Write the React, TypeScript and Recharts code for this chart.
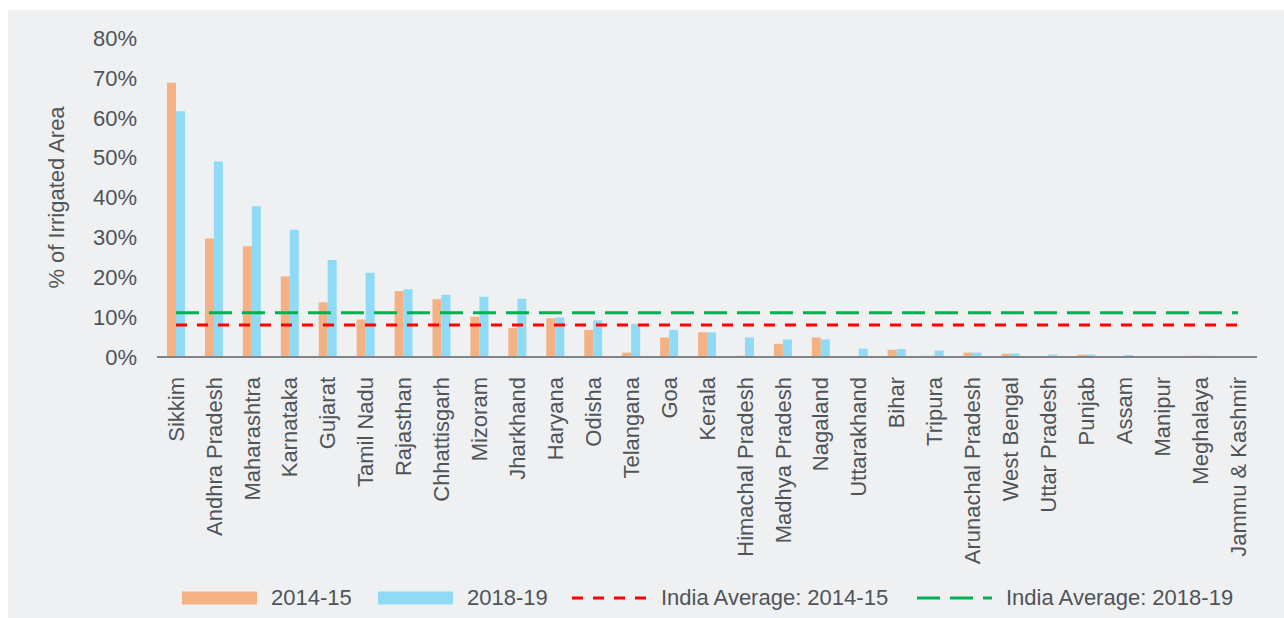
import {
  Bar,
  BarChart,
  Label,
  Legend,
  Line,
  XAxis,
  YAxis,
} from 'recharts'

const states = [
  'Sikkim', 'Andhra Pradesh', 'Maharashtra', 'Karnataka', 'Gujarat', 'Tamil Nadu',
  'Rajasthan', 'Chhattisgarh', 'Mizoram', 'Jharkhand', 'Haryana', 'Odisha',
  'Telangana', 'Goa', 'Kerala', 'Himachal Pradesh', 'Madhya Pradesh', 'Nagaland',
  'Uttarakhand', 'Bihar', 'Tripura', 'Arunachal Pradesh', 'West Bengal',
  'Uttar Pradesh', 'Punjab', 'Assam', 'Manipur', 'Meghalaya', 'Jammu & Kashmir',
]

// % of irrigated area
const share2014 = [
  68.8, 29.7, 27.8, 20.2, 13.7, 9.4, 16.5, 14.5, 10.1, 7.3, 9.7, 6.8, 1.1, 4.9, 6.2,
  0.3, 3.3, 4.9, 0.05, 1.8, 0.3, 1.1, 0.8, 0.1, 0.6, 0.05, 0.2, 0.3, 0.1,
]
const share2018 = [
  61.6, 49.0, 37.8, 31.9, 24.3, 21.1, 17.0, 15.6, 15.1, 14.6, 9.9, 9.2, 8.3, 6.8, 6.2,
  4.9, 4.4, 4.4, 2.1, 2.0, 1.6, 1.1, 0.9, 0.6, 0.6, 0.5, 0.1, 0.3, 0.05,
]
const indiaAvg2014 = 8.0
const indiaAvg2018 = 11.1

const yTicks = [0, 10, 20, 30, 40, 50, 60, 70, 80]

const FONT = "'Liberation Sans', Arial, sans-serif"
const FS = 22
const TEXT = '#4f5459'
const ORANGE = '#f4b183'
const BLUE = '#8fdbf5'
const RED = '#ff0000'
const GREEN = '#00b050'

const data = states.map((name, i) => ({
  name,
  y2014: share2014[i],
  y2018: share2018[i],
  avg2014: indiaAvg2014,
  avg2018: indiaAvg2018,
}))

const legendItems = [
  { label: '2014-15', kind: 'rect', color: ORANGE, left: 174 },
  { label: '2018-19', kind: 'rect', color: BLUE, left: 370 },
  { label: 'India Average: 2014-15', kind: 'line', color: RED, dash: '11 10', left: 564 },
  { label: 'India Average: 2018-19', kind: 'line', color: GREEN, dash: '23 10', left: 909 },
]

function StateTick(props: any) {
  const { x, y, payload } = props
  return (
    <g transform={`translate(${x},${y})`}>
      <text
        transform="rotate(-90)"
        x={-20}
        y={0}
        dy="0.35em"
        textAnchor="end"
        fill={TEXT}
        fontSize={FS}
        fontFamily={FONT}
      >
        {payload.value}
      </text>
    </g>
  )
}

function ChartLegend() {
  return (
    <div style={{ position: 'relative', width: 1276, height: 25, fontFamily: FONT, fontSize: FS, color: TEXT }}>
      {legendItems.map((it) => (
        <div
          key={it.label}
          style={{ position: 'absolute', left: it.left, top: 0, height: 25, display: 'flex', alignItems: 'center', whiteSpace: 'nowrap' }}
        >
          <svg width={75} height={14} style={{ marginRight: 14 }}>
            {it.kind === 'rect' ? (
              <rect x={0} y={0.5} width={75} height={13} fill={it.color} />
            ) : (
              <line x1={0} y1={7} x2={75} y2={7} stroke={it.color} strokeWidth={3} strokeDasharray={it.dash} />
            )}
          </svg>
          <span>{it.label}</span>
        </div>
      ))}
    </div>
  )
}

export default function App() {
  return (
    <div>
      <style>{'body{margin:0;overflow:hidden;background:#fff}'}</style>
      <div style={{ position: 'absolute', left: 8, top: 10, width: 1276, height: 608, background: '#eef0f2', overflow: 'hidden' }}>
        <BarChart
          width={1276}
          height={608}
          data={data}
          margin={{ top: 28, right: 27, left: 0, bottom: 0 }}
          barGap={0}
          barSize={9}
        >
          <XAxis
            dataKey="name"
            interval={0}
            height={261}
            tickLine={false}
            tickSize={0}
            tickMargin={0}
            axisLine={{ stroke: '#808488', strokeWidth: 2 }}
            tick={<StateTick />}
          />
          <YAxis
            width={149}
            domain={[0, 80]}
            ticks={yTicks}
            tickFormatter={(v: number) => `${v}%`}
            axisLine={false}
            tickLine={false}
            tickSize={0}
            tickMargin={20}
            tick={{ fill: TEXT, fontSize: FS, fontFamily: FONT }}
          >
            <Label
              value="% of Irrigated Area"
              angle={-90}
              position="center"
              dx={-26}
              fill={TEXT}
              fontSize={FS}
              fontFamily={FONT}
            />
          </YAxis>
          <Bar dataKey="y2014" fill={ORANGE} isAnimationActive={false} />
          <Bar dataKey="y2018" fill={BLUE} isAnimationActive={false} />
          <Line
            dataKey="avg2014"
            stroke={RED}
            strokeWidth={3}
            strokeDasharray="11 10"
            dot={false}
            activeDot={false}
            isAnimationActive={false}
          />
          <Line
            dataKey="avg2018"
            stroke={GREEN}
            strokeWidth={3}
            strokeDasharray="23 10"
            dot={false}
            activeDot={false}
            isAnimationActive={false}
          />
          <Legend
            layout="horizontal"
            verticalAlign="middle"
            align="center"
            content={<ChartLegend />}
            wrapperStyle={{ top: 575, left: 0, width: 1276, height: 25 }}
          />
        </BarChart>
      </div>
    </div>
  )
}
